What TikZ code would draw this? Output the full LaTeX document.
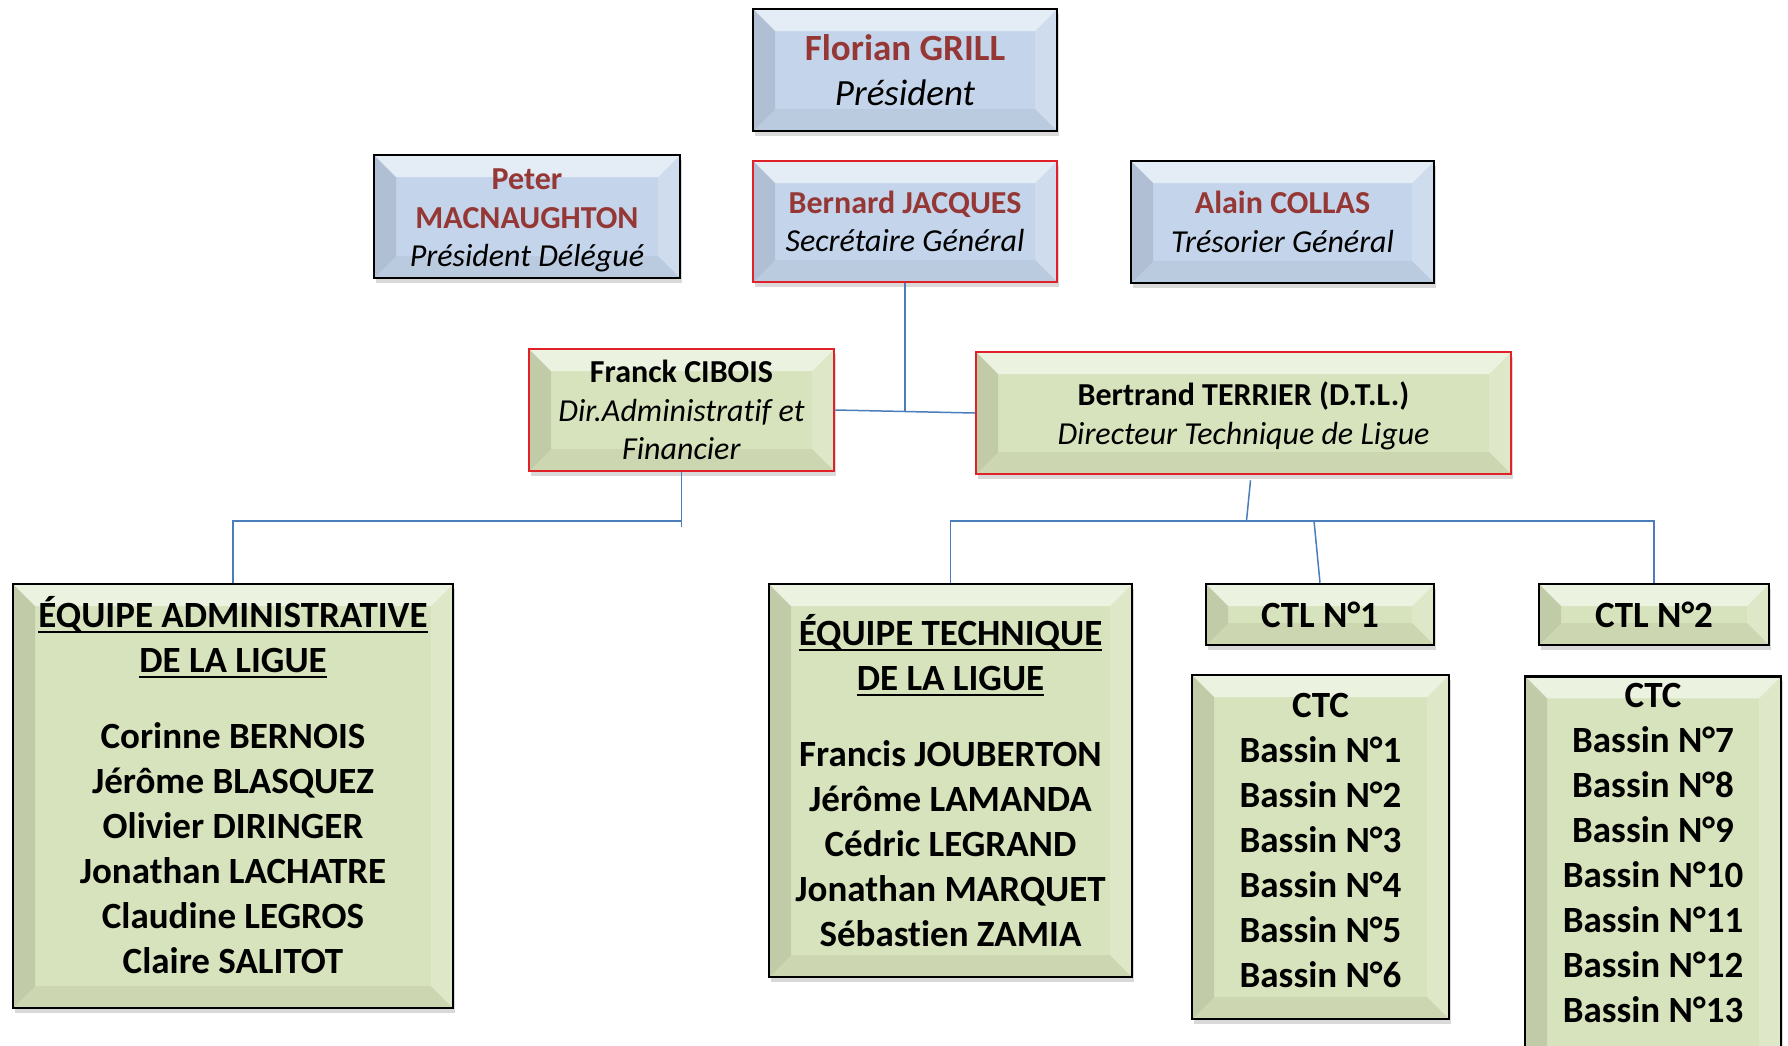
\documentclass[tikz,border=0pt]{standalone}
\usepackage{fontspec}
\setmainfont{Carlito}[Ligatures=NoCommon]
\usetikzlibrary{shadows,calc}
\definecolor{namered}{HTML}{953735}
\definecolor{boxblue}{HTML}{C4D5EB}
\definecolor{boxgreen}{HTML}{D7E3BC}
\definecolor{linkblue}{HTML}{4A7EBB}
\definecolor{framered}{HTML}{E02228}
\newcommand{\teamrule}[1]{\setbox0\hbox{#1}\rlap{\rule[-6pt]{\wd0}{2.5pt}}\box0}
\newcommand{\boss}[1]{\textcolor{namered}{\textbf{#1}}}
\begin{document}
\begin{tikzpicture}[x=1pt,y=-1pt,
  bevel/.style={path picture={
    \fill[white,opacity=.55] (path picture bounding box.north west) -- (path picture bounding box.north east) -- ([xshift=-22pt,yshift=-22pt]path picture bounding box.north east) -- ([xshift=22pt,yshift=-22pt]path picture bounding box.north west) -- cycle;
    \fill[black,opacity=.1] (path picture bounding box.north west) -- ([xshift=22pt,yshift=-22pt]path picture bounding box.north west) -- ([xshift=22pt,yshift=22pt]path picture bounding box.south west) -- (path picture bounding box.south west) -- cycle;
    \fill[white,opacity=.18] (path picture bounding box.north east) -- ([xshift=-22pt,yshift=-22pt]path picture bounding box.north east) -- ([xshift=-22pt,yshift=22pt]path picture bounding box.south east) -- (path picture bounding box.south east) -- cycle;
    \fill[black,opacity=.05] (path picture bounding box.south west) -- ([xshift=22pt,yshift=22pt]path picture bounding box.south west) -- ([xshift=-22pt,yshift=22pt]path picture bounding box.south east) -- (path picture bounding box.south east) -- cycle;
  }},
  box/.style={draw, line width=2.5pt, bevel, align=center, inner sep=0pt,
    drop shadow={opacity=.3,shadow xshift=2pt,shadow yshift=-5pt}},
  bluebox/.style={box, fill=boxblue, font=\fontsize{32}{38.5}\selectfont},
  greenbox/.style={box, fill=boxgreen, font=\fontsize{37}{45}\selectfont\bfseries},
  boxtext/.style={align=center, inner sep=0pt, font=\fontsize{37}{45}\selectfont\bfseries},
  redframe/.style={draw=framered},
  link/.style={draw=linkblue, line width=1.5pt}]
\useasboundingbox (0,0) rectangle (1788,1045);
\node[bluebox, minimum width=304, minimum height=122, font=\fontsize{37}{45.5}\selectfont] (pres) at (905,70) {\boss{Florian GRILL}\\\textit{Président}};
\node[bluebox, minimum width=306, minimum height=123] (peter) at (527,216.5) {};
\node[align=center, inner sep=0pt, font=\fontsize{32}{38.5}\selectfont] (petertext) at ([yshift=-4pt]peter.center) {\boss{Peter}\\\boss{MACNAUGHTON}\\\textit{Président Délégué}};
\node[bluebox, redframe, minimum width=304, minimum height=121] (bernard) at (905,221.5) {\boss{Bernard JACQUES}\\\textit{Secrétaire Général}};
\node[bluebox, minimum width=303, minimum height=122] (alain) at (1282.5,222) {\boss{Alain COLLAS}\\\textit{Trésorier Général}};
\node[greenbox, redframe, minimum width=305, minimum height=122, font=\fontsize{32}{38.5}\selectfont] (franck) at (681.5,410) {\textbf{Franck CIBOIS}\\\textit{Dir.Administratif et}\\\textit{Financier}};
\node[greenbox, redframe, minimum width=535, minimum height=122, font=\fontsize{32}{38.5}\selectfont] (bertrand) at (1243.5,413) {};
\node[align=center, inner sep=0pt, font=\fontsize{32}{38.5}\selectfont] (bertrandtext) at ([yshift=-3pt]bertrand.center) {\textbf{Bertrand TERRIER (D.T.L.)}\\\textit{Directeur Technique de Ligue}};
\node[greenbox, minimum width=440, minimum height=424] (admin) at (233,796) {};
\node[boxtext] (admintext) at ([yshift=11pt]admin.center) {\teamrule{ÉQUIPE ADMINISTRATIVE}\\\teamrule{DE LA LIGUE}\\[31pt]Corinne BERNOIS\\Jérôme BLASQUEZ\\Olivier DIRINGER\\Jonathan LACHATRE\\Claudine LEGROS\\Claire SALITOT};
\node[greenbox, minimum width=363, minimum height=393] (tech) at (950.5,780.5) {\teamrule{ÉQUIPE TECHNIQUE}\\\teamrule{DE LA LIGUE}\\[31pt]Francis JOUBERTON\\Jérôme LAMANDA\\Cédric LEGRAND\\Jonathan MARQUET\\Sébastien ZAMIA};
\node[greenbox, minimum width=228, minimum height=61] (ctlA) at (1320,614.5) {CTL N°1};
\node[greenbox, minimum width=230, minimum height=61] (ctlB) at (1654,614.5) {CTL N°2};
\node[greenbox, minimum width=257, minimum height=344] (ctcA) at (1320.5,847) {};
\node[boxtext] (ctcAtext) at ([yshift=7pt]ctcA.center) {CTC\\Bassin N°1\\Bassin N°2\\Bassin N°3\\Bassin N°4\\Bassin N°5\\Bassin N°6};
\node[greenbox, minimum width=256, minimum height=400, anchor=north] (ctcB) at (1653,675) {};
\node[boxtext, anchor=north] (ctcBtext) at ([yshift=-8pt]ctcB.north) {CTC\\Bassin N°7\\Bassin N°8\\Bassin N°9\\Bassin N°10\\Bassin N°11\\Bassin N°12\\Bassin N°13};
\coordinate (dirbar) at ($(franck.east)!.5!(bertrand.west)$);
\coordinate (adminbar) at ($(admin.north)+(0,-62)$);
\coordinate (techbar) at ($(tech.north)+(0,-62)$);
\coordinate (dtlhub) at ($(bertrand.south |- techbar)+(3,0)$);
\draw[link] (bernard.south) -- (dirbar);
\draw[link] (franck.east) -- (bertrand.west);
\draw[link] (franck.south) -- ++(0,55);
\draw[link] (admin.north) -- (adminbar) -- (adminbar -| franck.south);
\draw[link] ([xshift=7pt,yshift=-5pt]bertrand.south) -- (dtlhub);
\draw[link] (tech.north) -- (techbar) -- (techbar -| ctlB.north) -- (ctlB.north);
\draw[link] ([xshift=-6pt]ctlA.north |- techbar) -- (ctlA.north);
\end{tikzpicture}
\end{document}
